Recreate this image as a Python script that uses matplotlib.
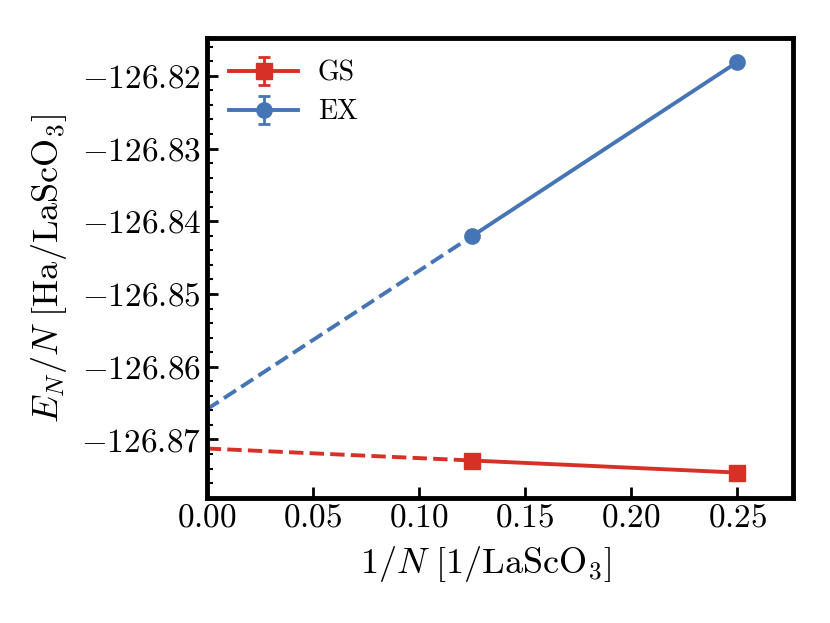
import numpy as np
import matplotlib
matplotlib.use("Agg")
import matplotlib.pyplot as plt
from matplotlib.ticker import MultipleLocator, AutoMinorLocator

plt.rcParams['font.family'] = 'serif'
plt.rcParams['font.serif'] = ['cmr10', 'DejaVu Serif']
plt.rcParams['mathtext.fontset'] = 'cm'
plt.rcParams['axes.formatter.use_mathtext'] = True

# 1/N values for the two supercells, and the extrapolated limit
inv_n = [0.125, 0.25]
inv_n_extrap = [0.0, 0.125]

# ground state (GS) and excited state (EX) energies per formula unit [Ha]
gs_energy = [-126.87289, -126.87455]
gs_err = [0.0003, 0.0003]
gs_extrap = [-126.87124, -126.87289]

ex_energy = [-126.84204, -126.81810]
ex_err = [0.0003, 0.0003]
ex_extrap = [-126.86587, -126.84204]

red = '#d73027'
blue = '#4575b4'

fig, ax = plt.subplots(figsize=(8.3, 6.23), dpi=100)
fig.subplots_adjust(left=0.249, right=0.955, bottom=0.2, top=0.939)

ax.errorbar(inv_n, gs_energy, yerr=gs_err, color=red, marker='s', ms=11,
            lw=2.8, capsize=4, elinewidth=2, capthick=2, label='GS', zorder=3)
ax.errorbar(inv_n, ex_energy, yerr=ex_err, color=blue, marker='o', ms=11,
            lw=2.8, capsize=4, elinewidth=2, capthick=2, label='EX', zorder=3)
ax.plot(inv_n_extrap, gs_extrap, color=red, ls='--', lw=2.8, zorder=2)
ax.plot(inv_n_extrap, ex_extrap, color=blue, ls='--', lw=2.8, zorder=2)

ax.set_xlim(0, 0.276)
ax.set_ylim(-126.8781, -126.8148)
ax.xaxis.set_major_locator(MultipleLocator(0.05))
ax.yaxis.set_major_locator(MultipleLocator(0.01))
ax.yaxis.set_minor_locator(AutoMinorLocator(5))
ax.yaxis.set_major_formatter(plt.FuncFormatter(lambda v, p: r'$%.2f$' % v if v >= 0 else r'$-%.2f$' % -v))
ax.xaxis.set_major_formatter(plt.FuncFormatter(lambda v, p: r'$%.2f$' % v))

ax.tick_params(which='major', direction='in', length=8, width=2, labelsize=24, pad=4)
ax.tick_params(which='minor', direction='in', length=4, width=1.5)
for s in ax.spines.values():
    s.set_linewidth(3.5)

ax.set_xlabel(r'$1/N\ [1/\mathrm{LaScO_3}]$', fontsize=26, labelpad=2)
ax.set_ylabel(r'$E_N/N\ [\mathrm{Ha/LaScO_3}]$', fontsize=26, labelpad=9)
ax.xaxis.set_label_coords(0.476, -0.1)

ax.legend(loc='upper left', frameon=False, fontsize=20, handlelength=2.5,
          handletextpad=0.7, labelspacing=0.45, borderaxespad=0.4)

fig.savefig('out.png', dpi=100)
